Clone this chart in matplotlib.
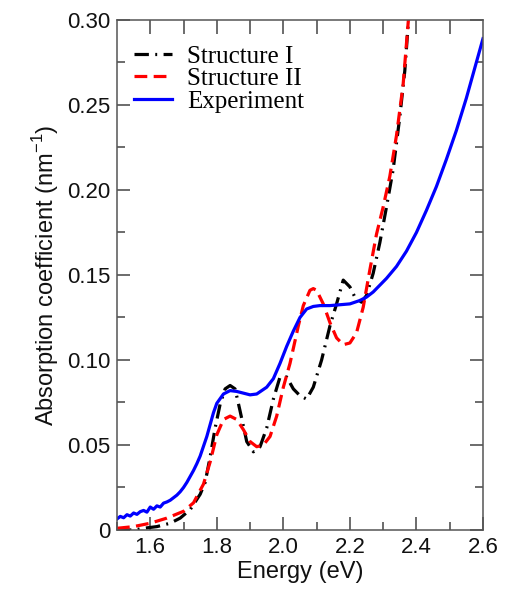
import numpy as np
import matplotlib.pyplot as plt
from matplotlib.ticker import MultipleLocator, FixedLocator

# Structure I (black dash-dot)
e_s1 = [1.50, 1.55, 1.58, 1.62, 1.66, 1.69, 1.72, 1.75, 1.765, 1.78, 1.795, 1.81,
        1.825, 1.84, 1.855, 1.87, 1.89, 1.91, 1.93, 1.95, 1.97, 1.99, 2.01, 2.03,
        2.05, 2.07, 2.09, 2.115, 2.14, 2.16, 2.18, 2.20, 2.215, 2.235, 2.25, 2.27,
        2.29, 2.31, 2.33, 2.35, 2.365, 2.38]
a_s1 = [0.000, 0.000, 0.001, 0.002, 0.004, 0.007, 0.012, 0.021, 0.028, 0.043, 0.060, 0.074,
        0.083, 0.085, 0.083, 0.070, 0.052, 0.046, 0.049, 0.060, 0.077, 0.090, 0.090, 0.083,
        0.079, 0.077, 0.084, 0.100, 0.120, 0.133, 0.147, 0.143, 0.137, 0.134, 0.138, 0.151,
        0.169, 0.190, 0.212, 0.243, 0.270, 0.310]

# Structure II (red dashed)
e_s2 = [1.50, 1.55, 1.60, 1.65, 1.70, 1.73, 1.76, 1.78, 1.80, 1.82, 1.84, 1.86,
        1.88, 1.90, 1.92, 1.94, 1.96, 1.98, 2.00, 2.02, 2.045, 2.06, 2.08, 2.09,
        2.10, 2.12, 2.14, 2.16, 2.18, 2.20, 2.22, 2.24, 2.26, 2.28, 2.30, 2.32,
        2.34, 2.36, 2.38]
a_s2 = [0.001, 0.002, 0.004, 0.007, 0.011, 0.016, 0.027, 0.040, 0.056, 0.065, 0.067, 0.065,
        0.059, 0.052, 0.049, 0.050, 0.055, 0.067, 0.084, 0.098, 0.120, 0.132, 0.141, 0.142,
        0.141, 0.133, 0.122, 0.113, 0.109, 0.110, 0.116, 0.131, 0.153, 0.174, 0.190, 0.208,
        0.232, 0.262, 0.310]

# Experiment (blue solid)
e_exp = [1.50, 1.51, 1.52, 1.53, 1.54, 1.55, 1.56, 1.57, 1.58, 1.59, 1.60, 1.61,
         1.62, 1.63, 1.64, 1.65, 1.66, 1.67, 1.68, 1.69, 1.70, 1.71, 1.72, 1.73,
         1.74, 1.75, 1.77, 1.78, 1.79, 1.80, 1.82, 1.84, 1.86, 1.88, 1.90, 1.92,
         1.95, 1.97, 1.99, 2.01, 2.03, 2.05, 2.07, 2.09, 2.11, 2.14, 2.17, 2.20,
         2.23, 2.25, 2.27, 2.29, 2.31, 2.34, 2.37, 2.40, 2.43, 2.46, 2.49, 2.52,
         2.55, 2.58, 2.60]
a_exp = [0.0065, 0.0080, 0.0072, 0.0090, 0.0082, 0.0100, 0.0092, 0.0108, 0.0115, 0.0105, 0.0135, 0.0122,
         0.0142, 0.0135, 0.0158, 0.0165, 0.0175, 0.0190, 0.0205, 0.0225, 0.0250, 0.0280, 0.0315, 0.0350,
         0.0390, 0.0435, 0.0550, 0.0620, 0.0690, 0.0745, 0.0800, 0.0820, 0.0815, 0.0805, 0.0795, 0.0800,
         0.0840, 0.0890, 0.0980, 0.1080, 0.1170, 0.1250, 0.1300, 0.1315, 0.1320, 0.1320, 0.1325, 0.1330,
         0.1350, 0.1370, 0.1400, 0.1440, 0.1480, 0.1550, 0.1640, 0.1750, 0.1880, 0.2020, 0.2180, 0.2350,
         0.2540, 0.2750, 0.2890]

x_ticks = [1.6, 1.8, 2.0, 2.2, 2.4, 2.6]
y_ticks = [0, 0.05, 0.10, 0.15, 0.20, 0.25, 0.30]
y_tick_labels = ['0', '0.05', '0.10', '0.15', '0.20', '0.25', '0.30']

plt.rcParams['font.family'] = ['Liberation Sans', 'DejaVu Sans']
plt.rcParams['mathtext.fontset'] = 'custom'
plt.rcParams['mathtext.rm'] = 'Liberation Sans'

fig = plt.figure(figsize=(5.16, 6.02), dpi=100)
ax = fig.add_axes([0.2267, 0.1196, 0.7093, 0.8472])

lw = 2.3
ax.plot(e_s1, a_s1, color='black', lw=lw, dashes=(4.5, 2, 0.6, 2), label='Structure I')
ax.plot(e_s2, a_s2, color='#ff0000', lw=lw, dashes=(4, 2), label='Structure II')
ax.plot(e_exp, a_exp, color='#0000ff', lw=lw, label='Experiment')

ax.set_xlim(1.5, 2.6)
ax.set_ylim(0, 0.30)
ax.set_xticks(x_ticks)
ax.xaxis.set_minor_locator(MultipleLocator(0.1))
ax.set_yticks(y_ticks)
ax.set_yticklabels(y_tick_labels)
ax.yaxis.set_minor_locator(MultipleLocator(0.025))

ax.tick_params(which='both', direction='in', colors='#444444', labelcolor='#111111',
               labelsize=16, width=1.1)
ax.tick_params(which='major', length=9.5, pad=5)
ax.tick_params(which='minor', length=5.5)
ax.tick_params(which='both', right=True)
for s in ax.spines.values():
    s.set_color('#555555')
    s.set_linewidth(1.1)

# top axis: every 0.1 with long ticks
top = ax.secondary_xaxis('top')
top.xaxis.set_major_locator(FixedLocator(np.arange(1.6, 2.55, 0.1)))
top.tick_params(direction='in', length=10, width=1.1, colors='#444444', labeltop=False)
top.spines['top'].set_visible(False)

ax.set_xlabel('Energy (eV)', fontsize=17, color='#111111', labelpad=2)
ax.set_ylabel('Absorption coefficient (nm$^{\\mathrm{-1}}$)', fontsize=17, color='#111111', labelpad=4)

leg = ax.legend(loc='upper left', bbox_to_anchor=(0.0, 0.985), frameon=False,
                prop={'family': 'Liberation Serif', 'size': 18},
                handlelength=1.5, handletextpad=0.6, labelspacing=0.0, borderaxespad=0.3)

fig.savefig('out.png', dpi=100)
